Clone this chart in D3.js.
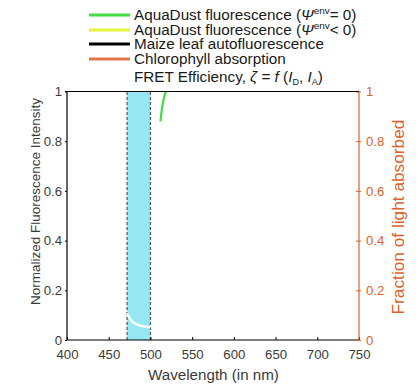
<!DOCTYPE html>
<html lang="en">
<head>
  <meta charset="UTF-8">
  <title>AquaDust fluorescence</title>
  <script src="https://d3js.org/d3.v7.min.js"></script>
  <style>
    body { margin: 0; background: #fff; }
    svg { font-family: "Liberation Sans", Arial, sans-serif; }
    .tick-label { fill: #3a3a3a; }
    .legend text { fill: #1a1a1a; }
  </style>
</head>
<body>
  <svg width="419" height="384"></svg>
  <script>
    // data
    const xTicks = [400, 450, 500, 550, 600, 650, 700, 750];
    const yTicks = [0, 0.2, 0.4, 0.6, 0.8, 1];
    const bandRange = [472, 500];
    // green: AquaDust fluorescence (Psi env = 0), clipped at 1
    const greenWl = [512, 513, 514, 515, 516, 517, 518, 519, 520];
    const greenVal = [0.88, 0.91, 0.935, 0.955, 0.972, 0.985, 0.995, 1.0, 1.005];
    // white trace inside the FRET band
    const whiteWl = [472, 474, 476, 478, 481, 484, 488, 492, 496, 500];
    const whiteVal = [0.108, 0.094, 0.083, 0.075, 0.068, 0.062, 0.058, 0.055, 0.053, 0.052];

    const legendItems = [
      { color: "#44dd44", parts: ["AquaDust fluorescence (", "Ψ", "env", "= 0)"] },
      { color: "#e6f53c", parts: ["AquaDust fluorescence (", "Ψ", "env", "< 0)"] },
      { color: "#000000", parts: ["Maize leaf autofluorescence"] },
      { color: "#e2784a", parts: ["Chlorophyll absorption"] }
    ];

    const svg = d3.select("svg");
    const margin = { left: 67, right: 60, top: 91.5, bottom: 44 };
    const W = 419, H = 384;
    const x = d3.scaleLinear().domain([400, 750]).range([margin.left, W - margin.right]);
    const y = d3.scaleLinear().domain([0, 1]).range([H - margin.bottom, margin.top]);
    const y2 = d3.scaleLinear().domain([0, 1]).range([H - margin.bottom, margin.top]);
    const orange = "#e0622a";

    // size a text so it spans a given width
    function fitWidth(sel, target) {
      const base = 14;
      sel.style("font-size", base + "px");
      const w = sel.node().getComputedTextLength();
      const size = base * target / w;
      sel.style("font-size", size + "px");
      return size;
    }

    svg.append("defs").append("clipPath").attr("id", "plot")
      .append("rect")
      .attr("x", x(400)).attr("y", y(1))
      .attr("width", x(750) - x(400)).attr("height", y(0) - y(1));

    const plot = svg.append("g").attr("clip-path", "url(#plot)");

    // FRET band
    plot.append("rect")
      .attr("x", x(bandRange[0])).attr("y", y(1))
      .attr("width", x(bandRange[1]) - x(bandRange[0]))
      .attr("height", y(0) - y(1))
      .attr("fill", "#95e8f3");
    bandRange.forEach(w => {
      plot.append("line")
        .attr("x1", x(w)).attr("x2", x(w))
        .attr("y1", y(0)).attr("y2", y(1))
        .attr("stroke", "#5a5a5a").attr("stroke-width", 1.3)
        .attr("stroke-dasharray", "3,2");
    });

    const line = d3.line().curve(d3.curveMonotoneX);
    plot.append("path")
      .attr("d", line(whiteWl.map((w, i) => [x(w), y(whiteVal[i])])))
      .attr("fill", "none").attr("stroke", "#fff").attr("stroke-width", 2.2);
    plot.append("path")
      .attr("d", line(greenWl.map((w, i) => [x(w), y(greenVal[i])])))
      .attr("fill", "none").attr("stroke", "#44dd44").attr("stroke-width", 2.2);

    const fmt = d => d === 0 || d === 1 ? d : d3.format(".1f")(d);

    // axes
    const bottom = svg.append("g").attr("transform", `translate(0,${y(0)})`)
      .call(d3.axisBottom(x).tickValues(xTicks).tickSize(-3).tickPadding(10).tickFormat(d3.format("d")));
    bottom.selectAll("text").attr("class", "tick-label");

    const left = svg.append("g").attr("transform", `translate(${x(400)},0)`)
      .call(d3.axisLeft(y).tickValues(yTicks).tickSize(2).tickPadding(3).tickFormat(fmt));
    left.selectAll("text").attr("class", "tick-label");

    const right = svg.append("g").attr("transform", `translate(${x(750)},0)`)
      .call(d3.axisRight(y2).tickValues(yTicks).tickSize(2).tickPadding(5).tickFormat(fmt));
    right.selectAll("text").attr("fill", orange);
    right.selectAll("line").attr("stroke", orange);
    right.selectAll(".tick").append("line").attr("x1", -3).attr("x2", 0).attr("stroke", orange);
    right.select(".domain").attr("stroke", orange).attr("stroke-width", 1.2);

    const tickSize = fitWidth(bottom.select(".tick text"), 22);
    [bottom, left, right].forEach(g => g.selectAll(".tick text").style("font-size", tickSize + "px"));

    [bottom, left].forEach(g => {
      g.select(".domain").attr("stroke", "#000").attr("stroke-width", 1.2);
      g.selectAll("line").attr("stroke", "#000");
      g.select(".domain").attr("d", g === bottom
        ? `M${x(400)},0H${x(750)}` : `M0,${y(0)}V${y(1)}`);
    });
    right.select(".domain").attr("d", `M0,${y(0)}V${y(1)}`);

    // top border
    svg.append("line")
      .attr("x1", x(400) - 2).attr("x2", x(750))
      .attr("y1", y(1)).attr("y2", y(1))
      .attr("stroke", "#000").attr("stroke-width", 1.2);

    // axis titles
    const xTitle = svg.append("text")
      .attr("x", 213.5).attr("y", 380)
      .attr("text-anchor", "middle").attr("fill", "#3a3a3a")
      .text("Wavelength (in nm)");
    fitWidth(xTitle, 131);
    const yTitle = svg.append("text")
      .attr("transform", "translate(40,201.5) rotate(-90)")
      .attr("text-anchor", "middle").attr("fill", "#3a3a3a")
      .text("Normalized Fluorescence Intensity");
    fitWidth(yTitle, 207);
    const y2Title = svg.append("text")
      .attr("transform", "translate(404,217) rotate(-90)")
      .attr("text-anchor", "middle").attr("fill", orange)
      .text("Fraction of light absorbed");
    fitWidth(y2Title, 195);

    // legend
    const legend = svg.append("g").attr("class", "legend");
    const rowY = [15, 30, 44, 59];
    const texts = [];
    legendItems.forEach((item, i) => {
      legend.append("line")
        .attr("x1", 89).attr("x2", 130)
        .attr("y1", rowY[i]).attr("y2", rowY[i])
        .attr("stroke", item.color).attr("stroke-width", 3);
      const t = legend.append("text").attr("x", 134).attr("y", rowY[i] + 5);
      texts.push(t);
      if (item.parts.length === 1) {
        t.text(item.parts[0]);
      } else {
        t.append("tspan").text(item.parts[0]);
        t.append("tspan").attr("font-style", "italic").text(item.parts[1]);
        t.append("tspan").attr("dy", -6).style("font-size", "0.65em").text(item.parts[2]);
        t.append("tspan").attr("dy", 6).text(item.parts[3]);
      }
    });
    const fret = legend.append("text").attr("x", 134).attr("y", 82);
    texts.push(fret);
    fret.append("tspan").text("FRET Efficiency, ");
    fret.append("tspan").attr("font-style", "italic").text("ζ");
    fret.append("tspan").text(" = ");
    fret.append("tspan").attr("font-style", "italic").text("f");
    fret.append("tspan").text(" (");
    fret.append("tspan").attr("font-style", "italic").text("I");
    fret.append("tspan").attr("dy", 3).style("font-size", "0.6em").text("D");
    fret.append("tspan").attr("dy", -3).text(",  ");
    fret.append("tspan").attr("font-style", "italic").text("I");
    fret.append("tspan").attr("dy", 3).style("font-size", "0.6em").text("A");
    fret.append("tspan").attr("dy", -3).text(")");
    const legendSize = fitWidth(texts[2], 190);
    texts.forEach(t => t.style("font-size", legendSize + "px"));
  </script>
</body>
</html>
